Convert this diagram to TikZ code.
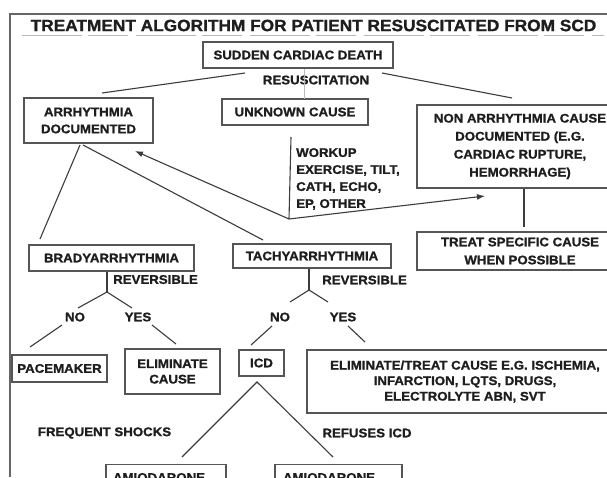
\documentclass[tikz,border=0pt]{standalone}
\usepackage{fontspec}
\setmainfont{Liberation Sans}[FakeStretch=1.06,FakeBold=1.2]
\usetikzlibrary{arrows.meta}
\definecolor{txt}{HTML}{1E1E1E}
\definecolor{linegray}{HTML}{3C3C3C}
\definecolor{boxgray}{HTML}{555555}
\begin{document}
\begin{tikzpicture}[x=1pt,y=-1pt,
  box/.style={draw=boxgray, line width=1.1pt, inner sep=0pt, align=center,
    font=\bfseries\fontsize{12.5}{17}\selectfont, text=txt},
  lbl/.style={inner sep=0pt, font=\bfseries\fontsize{12.5}{17}\selectfont, text=txt},
  conn/.style={draw=linegray, line width=1.1pt},
  faint/.style={draw=gray!55, line width=0.5pt},
  tip/.style={-{Latex[length=8pt,width=6pt]}}
  ]
\useasboundingbox (0,0) rectangle (607,477);
\clip (0,0) rectangle (607,477);
\fill[white] (0,0) rectangle (607,477);
% frame
\coordinate (fbl) at (10,477);
\coordinate (ftl) at (10,14);
\coordinate (ftr) at (607,14);
\draw[draw=gray!80!black, line width=1.2pt] (fbl) -- (ftl) -- (ftr);
% title
\node[inner sep=0pt, font=\bfseries\fontsize{16.3}{18}\selectfont, text=txt] (title) at (313.5,25.5)
  {TREATMENT ALGORITHM FOR PATIENT RESUSCITATED FROM SCD};
\coordinate (ul1) at (22,35);
\coordinate (ul2) at (604,35);
\draw[faint, dash pattern=on 60pt off 6pt on 40pt off 8pt] (ul1) -- (ul2);

% top level
\node[box, minimum width=190, minimum height=26] (scd) at (298,55) {SUDDEN CARDIAC DEATH};
\node[lbl] (resus) at (316,80) {RESUSCITATION};
\node[box, minimum width=129, minimum height=45] (arr) at (88.5,120.5) {ARRHYTHMIA\\DOCUMENTED};
\node[box, minimum width=146, minimum height=26] (unk) at (295,112) {UNKNOWN CAUSE};
\node[box, minimum width=206, minimum height=83, font=\bfseries\fontsize{12.5}{18}\selectfont] (non) at (520,146.5)
  {NON ARRHYTHMIA CAUSE\\DOCUMENTED (E.G.\\CARDIAC RUPTURE,\\HEMORRHAGE)};
\node[box, minimum width=206, minimum height=38, font=\bfseries\fontsize{12.5}{18}\selectfont] (treat) at (520,251)
  {TREAT SPECIFIC CAUSE\\WHEN POSSIBLE};

\coordinate (sl1) at (245,73);
\coordinate (sl2) at (102,93);
\coordinate (sr1) at (382,73);
\coordinate (sr2) at (512,98);
\draw[conn] (sl1) -- (sl2);
\draw[conn] (sr1) -- (sr2);
\coordinate (sv) at (304,99);
\draw[faint] (scd.south -| sv) -- (sv);

% workup
\node[lbl, anchor=west, align=left] (workup) at (296,179)
  {WORKUP\\EXERCISE, TILT,\\CATH, ECHO,\\EP, OTHER};
\coordinate (wtop) at (291,137);
\coordinate (vx) at (289,219);
\draw[conn] (wtop) -- (vx);
\coordinate (a1) at (135,151);
\coordinate (a2) at (485,196);
\draw[conn, tip] (vx) -- (a1);
\draw[conn, tip] (vx) -- (a2);
\draw[conn] (non.south -| 524,0) -- (524,227);

% second level
\node[box, minimum width=165, minimum height=26] (brady) at (111.5,258) {BRADYARRHYTHMIA};
\node[box, minimum width=158, minimum height=24] (tachy) at (312,256) {TACHYARRHYTHMIA};
\coordinate (arrL) at (80,145);
\coordinate (bradyTop) at (40,239);
\coordinate (arrR) at (83,145);
\coordinate (tachyTop) at (263,240);
\draw[conn] (arrL) -- (bradyTop);
\draw[conn] (arrR) -- (tachyTop);

% brady branch
\coordinate (bv) at (107,292);
\coordinate (bvl) at (78,308);
\coordinate (bvr) at (132,308);
\draw[conn] (brady.south -| bv) -- (bv);
\draw[conn] (bvl) -- (bv) -- (bvr);
\node[lbl, anchor=west] (brev) at (113,279.5) {REVERSIBLE};
\node[lbl] (bno) at (75,317) {NO};
\node[lbl] (byes) at (138,317) {YES};
\coordinate (bn1) at (62,325);
\coordinate (bn2) at (30,347);
\coordinate (by1) at (152,325);
\coordinate (by2) at (176,344);
\draw[conn] (bn1) -- (bn2);
\draw[conn] (by1) -- (by2);
\node[box, minimum width=95, minimum height=27] (pace) at (59.5,368.5) {PACEMAKER};
\node[box, minimum width=95, minimum height=45, font=\bfseries\fontsize{12.5}{15.5}\selectfont] (elim) at (172.5,371.5) {ELIMINATE\\CAUSE};

% tachy branch
\coordinate (tv) at (309,290);
\coordinate (tvl) at (290,302);
\coordinate (tvr) at (328,302);
\draw[conn] (tachy.south -| tv) -- (tv);
\draw[conn] (tvl) -- (tv) -- (tvr);
\node[lbl, anchor=west] (trev) at (322,280) {REVERSIBLE};
\node[lbl] (tno) at (280,317) {NO};
\node[lbl] (tyes) at (343,317) {YES};
\coordinate (tn1) at (272,326);
\coordinate (tn2) at (251,345);
\coordinate (ty1) at (348,326);
\coordinate (ty2) at (365,342);
\draw[conn] (tn1) -- (tn2);
\draw[conn] (ty1) -- (ty2);
\node[box, minimum width=45, minimum height=26] (icd) at (261.5,363) {ICD};
\node[box, minimum width=316, minimum height=63, font=\bfseries\fontsize{12.5}{15.5}\selectfont] (etc) at (465,381.5)
  {ELIMINATE/TREAT CAUSE E.G. ISCHEMIA,\\INFARCTION, LQTS, DRUGS,\\ELECTROLYTE ABN, SVT};

% ICD branch
\coordinate (apex) at (257,382);
\coordinate (il) at (182,457);
\coordinate (ir) at (333,457);
\draw[conn] (il) -- (apex) -- (ir);
\node[lbl] (freq) at (104.5,433) {FREQUENT SHOCKS};
\node[lbl] (refuse) at (367,433) {REFUSES ICD};
\node[box, minimum height=26, text width=106, inner xsep=7, align=left] (amio1) at (166,477.5) {AMIODARONE};
\node[box, minimum height=26, text width=111, inner xsep=8, align=left] (amio2) at (338.5,477.5) {AMIODARONE};
\end{tikzpicture}
\end{document}
